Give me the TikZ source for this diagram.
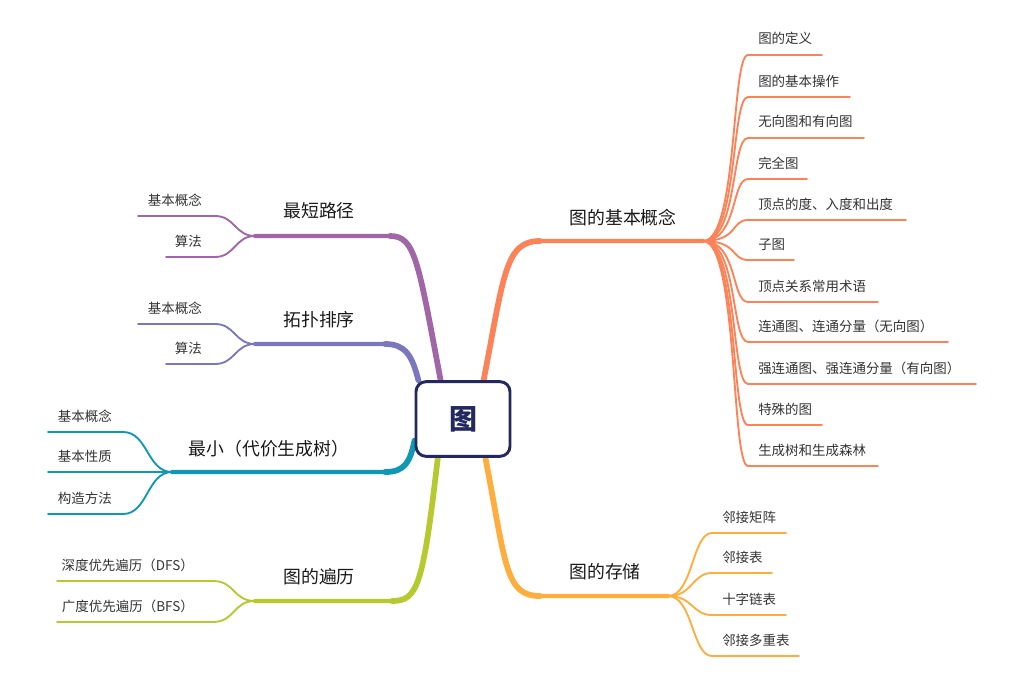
\documentclass[tikz,border=0pt]{standalone}
\usepackage{fontspec}
\setmainfont{Noto Sans CJK SC}
\pgfdeclarelayer{bg}
\pgfsetlayers{bg,main}
\definecolor{cA}{HTML}{FC8358}
\definecolor{cB}{HTML}{FFAD3D}
\definecolor{cC}{HTML}{A066A8}
\definecolor{cD}{HTML}{7B77BF}
\definecolor{cE}{HTML}{0F98B6}
\definecolor{cF}{HTML}{B6C92E}
\definecolor{navy}{HTML}{23285F}
\definecolor{leafc}{HTML}{333333}
\begin{document}
\begin{tikzpicture}[x=0.75pt,y=-0.75pt,
  leaf/.style={font=\fontsize{10.1}{12}\selectfont, text=leafc, inner sep=0pt},
  mainlbl/.style={font=\fontsize{13.4}{16}\selectfont, text=black!90, inner sep=0pt},
  twig/.style={line width=1.4pt, line cap=round},
  bough/.style={line width=3.1pt, line cap=round},
  boughthick/.style={line width=4.3pt, line cap=round},
  rootbox/.style={draw=navy, line width=2.2pt, fill=white, rounded corners=7.5pt,
    minimum width=70.5pt, minimum height=56pt, inner sep=0pt,
    font=\fontsize{21}{24}\selectfont\bfseries, text=navy}]
\useasboundingbox (0,0) rectangle (1024,692);

\node[rootbox] (root) at (463,419) {图};

% main labels
\node[mainlbl] (b1) at (623,218) {图的基本概念};
\node[mainlbl] (b2) at (605,572) {图的存储};
\node[mainlbl] (b3) at (319,211) {最短路径};
\node[mainlbl] (b4) at (319,320) {拓扑排序};
\node[mainlbl] (b5) at (269,449) {最小（代价生成树）};
\node[mainlbl] (b6) at (319,577) {图的遍历};

% hubs
\coordinate (h1) at (703,241);
\coordinate (h2) at (668,596);
\coordinate (h3) at (255,236);
\coordinate (h4) at (255,344);
\coordinate (h5) at (172,472);
\coordinate (h6) at (255,601);

\begin{pgfonlayer}{bg}
% main branches
\draw[bough,cA] (root.62) .. controls (504,275) and (505,241) .. (540,241) -- (h1);
\draw[boughthick,cA] (root.62) .. controls (504,275) and (505,241) .. (540,241);
\draw[bough,cB] (root.-60) .. controls (506,565) and (505,596) .. (540,596) -- (h2);
\draw[boughthick,cB] (root.-60) .. controls (506,565) and (505,596) .. (540,596);
\draw[bough,cC] (root.120) .. controls (418,260) and (415,236) .. (390,236) -- (h3);
\draw[boughthick,cC] (root.120) .. controls (418,260) and (415,236) .. (390,236);
\draw[bough,cD] (root.139) .. controls (412,355) and (405,344) .. (385,344) -- (h4);
\draw[boughthick,cD] (root.139) .. controls (412,355) and (405,344) .. (385,344);
\draw[bough,cE] (root.204) .. controls (410,462) and (405,472) .. (385,472) -- (h5);
\draw[boughthick,cE] (root.204) .. controls (410,462) and (405,472) .. (385,472);
\draw[bough,cF] (root.237) .. controls (423,585) and (418,601) .. (392,601) -- (h6);
\draw[boughthick,cF] (root.237) .. controls (423,585) and (418,601) .. (392,601);
\end{pgfonlayer}

% branch 1 children
\foreach \i/\t/\yy/\xe in {1/图的定义/55/822, 2/图的基本操作/97/850, 3/无向图和有向图/138/864,
  4/完全图/179/807, 5/顶点的度、入度和出度/220/906, 6/子图/260/794,
  7/顶点关系常用术语/302/878, 8/连通图、连通分量（无向图）/342/948,
  9/强连通图、强连通分量（有向图）/384/976, 10/特殊的图/425/822, 11/生成树和生成森林/466/878} {
  \coordinate (s1-\i) at (748,\yy);
  \coordinate (e1-\i) at (\xe,\yy);
  \node[leaf, anchor=base west] (t1-\i) at (758,\yy-11) {\t};
  \draw[twig,cA] (h1) .. controls +(35,0) and +(-17,0) .. (s1-\i) -- (e1-\i);
}

% branch 2 children
\foreach \i/\t/\yy/\xe in {1/邻接矩阵/533/786, 2/邻接表/573/772, 3/十字链表/615/786, 4/邻接多重表/656/799} {
  \coordinate (s2-\i) at (712,\yy);
  \coordinate (e2-\i) at (\xe,\yy);
  \node[leaf, anchor=base west] (t2-\i) at (722,\yy-11) {\t};
  \draw[twig,cB] (h2) .. controls +(25,0) and +(-20,0) .. (s2-\i) -- (e2-\i);
}

% branch 3 children
\foreach \i/\t/\yy/\xe in {1/基本概念/216/138, 2/算法/257/166} {
  \coordinate (s3-\i) at (215,\yy);
  \coordinate (e3-\i) at (\xe,\yy);
  \node[leaf, anchor=base east] (t3-\i) at (202,\yy-11) {\t};
  \draw[twig,cC] (h3) .. controls +(-20,0) and +(20,0) .. (s3-\i) -- (e3-\i);
}

% branch 4 children
\foreach \i/\t/\yy/\xe in {1/基本概念/324/138, 2/算法/364/166} {
  \coordinate (s4-\i) at (215,\yy);
  \coordinate (e4-\i) at (\xe,\yy);
  \node[leaf, anchor=base east] (t4-\i) at (202,\yy-11) {\t};
  \draw[twig,cD] (h4) .. controls +(-20,0) and +(20,0) .. (s4-\i) -- (e4-\i);
}

% branch 5 children
\foreach \i/\t/\yy in {1/基本概念/432, 2/基本性质/472, 3/构造方法/514} {
  \coordinate (s5-\i) at (123,\yy);
  \coordinate (e5-\i) at (48,\yy);
  \node[leaf, anchor=base east] (t5-\i) at (112,\yy-11) {\t};
  \draw[twig,cE] (h5) .. controls +(-25,0) and +(25,0) .. (s5-\i) -- (e5-\i);
}

% branch 6 children
\foreach \i/\t/\yy in {1/深度优先遍历（DFS）/581, 2/广度优先遍历（BFS）/622} {
  \coordinate (s6-\i) at (213,\yy);
  \coordinate (e6-\i) at (57,\yy);
  \node[leaf, anchor=base east] (t6-\i) at (194,\yy-11) {\t};
  \draw[twig,cF] (h6) .. controls +(-22,0) and +(22,0) .. (s6-\i) -- (e6-\i);
}
\end{tikzpicture}
\end{document}
